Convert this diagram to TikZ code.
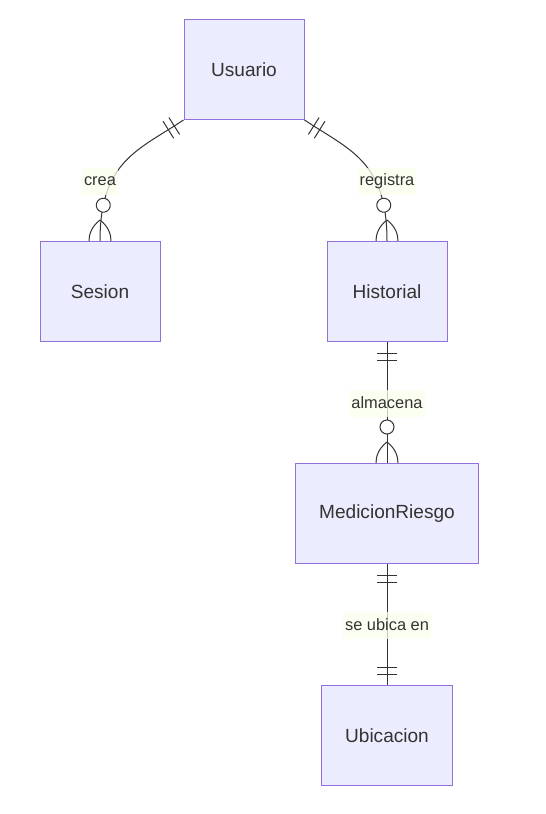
\documentclass[tikz,border=0pt]{standalone}
\usepackage{fontspec}
\setmainfont{Liberation Sans}
\usetikzlibrary{positioning,decorations.markings}
\definecolor{entfill}{HTML}{ECECFF}
\definecolor{entline}{HTML}{9370DB}
\definecolor{ink}{HTML}{333333}
\definecolor{relfill}{RGB}{249,255,236}
\tikzstyle{entity} = [rectangle,
                     minimum width=90pt,
                     minimum height=75pt,
                     inner xsep=18pt,
                     draw=entline,
                     fill=entfill,
                     line width=0.75pt,
                     text=ink,
                     font=\fontsize{14.3pt}{17pt}\selectfont]
\tikzstyle{rel} = [rectangle,
                  fill=relfill,
                  fill opacity=0.75,
                  text opacity=1,
                  text=ink,
                  inner xsep=1.5pt,
                  inner ysep=0pt,
                  minimum height=20.25pt,
                  font=\fontsize{12.3pt}{14pt}\selectfont]
\tikzstyle{link} = [draw=ink, line width=0.75pt]
\tikzstyle{onefrom} = [postaction={decorate, decoration={markings,
    mark=at position 8.25pt with {\draw[link] (0,-7.5pt) -- (0,7.5pt);},
    mark=at position 13.5pt with {\draw[link] (0,-7.5pt) -- (0,7.5pt);}}}]
\tikzstyle{oneto} = [postaction={decorate, decoration={markings,
    mark=at position -13.5pt with {\draw[link] (0,-7.5pt) -- (0,7.5pt);},
    mark=at position -8.25pt with {\draw[link] (0,-7.5pt) -- (0,7.5pt);}}}]
\tikzstyle{manyto} = [postaction={decorate, decoration={markings,
    mark=at position -27pt with {\draw[link, fill=white] (0,0) circle (5.25pt);},
    mark=at position -0.01pt with {
      \draw[link] (-15.75pt,0) .. controls (-10.5pt,6.75pt) and (-4.5pt,8.25pt) .. (0,8.25pt);
      \draw[link] (-15.75pt,0) .. controls (-10.5pt,-6.75pt) and (-4.5pt,-8.25pt) .. (0,-8.25pt);}}}]
\tikzstyle{erdiagram} = [x=0.75pt,
                        y=-0.75pt,
                        node distance=90.75pt]

\begin{document}
\begin{tikzpicture}[erdiagram]
    \useasboundingbox (0,0) rectangle (546,814);
    \node (usuario) [entity] at (244,69.5) {Usuario};
    \node (sesion) [below=of usuario, xshift=-108pt] [entity] {Sesion};
    \node (historial) [below=of usuario, xshift=107.25pt] [entity] {Historial};
    \node (medicion) [below=of historial] [entity] {MedicionRiesgo};
    \node (ubicacion) [below=of medicion] [entity] {Ubicacion};
    % relaciones
    \draw[link, onefrom, manyto] (usuario.south west) .. controls +(-45,30) and +(0,-80) .. (sesion.north);
    \draw[link, onefrom, manyto] (usuario.south east) .. controls +(45,30) and +(0,-80) .. (historial.north);
    \draw[link, onefrom, manyto] (historial.south) -- (medicion.north);
    \draw[link, onefrom, oneto] (medicion.south) -- (ubicacion.north);
    \node (crea) [rel] at ([yshift=45pt]sesion.north) {crea};
    \node (registra) [rel] at ([yshift=45pt]historial.north) {registra};
    \node (almacena) [rel] at ([yshift=45pt]medicion.north) {almacena};
    \node (ubica) [rel] at ([yshift=45pt]ubicacion.north) {se ubica en};
\end{tikzpicture}
\end{document}
